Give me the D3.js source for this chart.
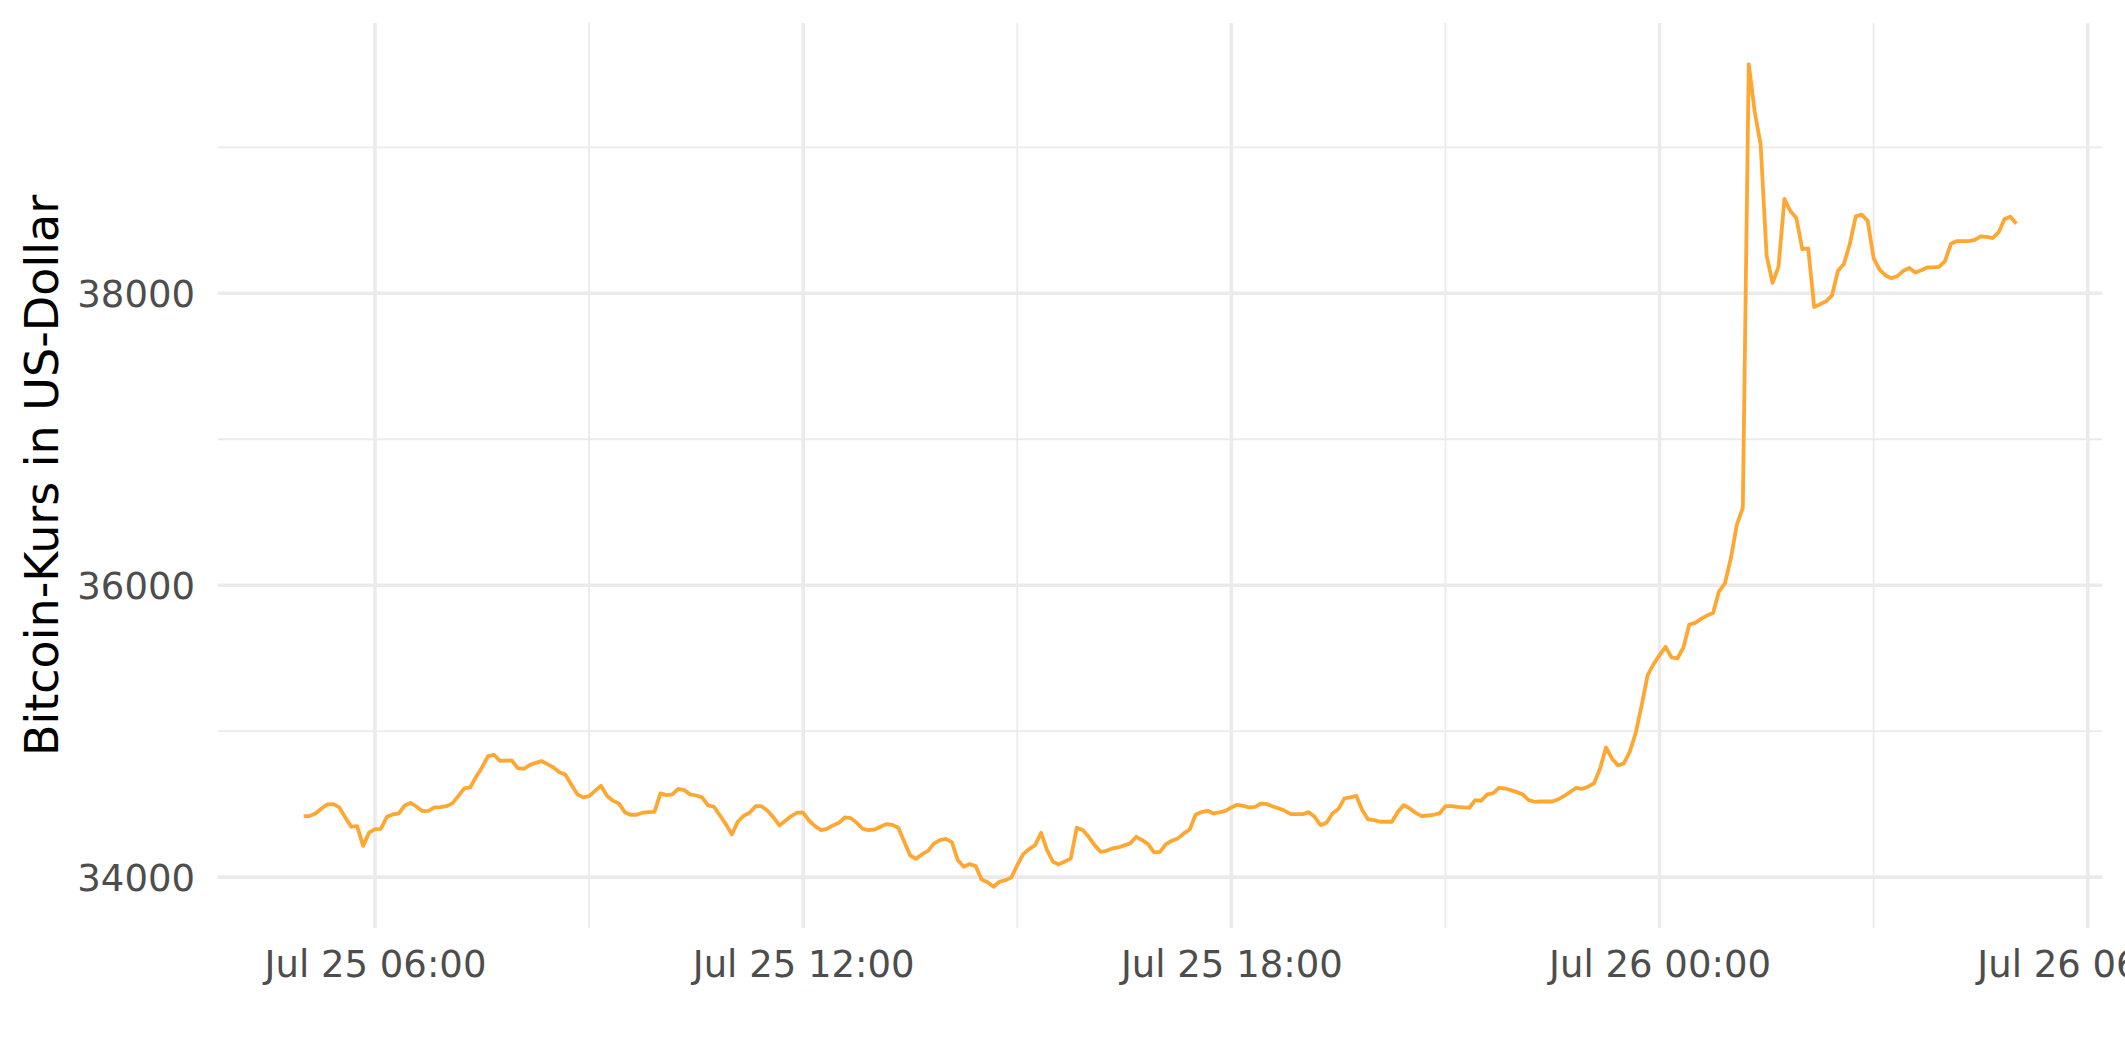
<!DOCTYPE html>
<html>
<head>
<meta charset="utf-8">
<script src="https://cdn.jsdelivr.net/npm/d3@7"></script>
<style>
  html, body { margin: 0; padding: 0; background: #ffffff; }
  svg { display: block; }
</style>
</head>
<body>
<svg id="chart" width="2125" height="1062"></svg>
<script>
// ---- data (5-minute BTC/USD closes, Jul 25 2021 05:00 UTC .. Jul 26 2021 05:00 UTC) ----
const startTime = "2021-07-25T05:00:00Z";
const stepMinutes = 5;
const price = [
  34418, 34418, 34436, 34470, 34498, 34500, 34477, 34409, 34345, 34349,
  34214, 34304, 34329, 34331, 34413, 34429, 34436, 34491, 34509, 34482,
  34452, 34454, 34477, 34479, 34486, 34505, 34555, 34607, 34614, 34687,
  34751, 34829, 34838, 34797, 34798, 34799, 34747, 34742, 34767, 34783,
  34795, 34774, 34751, 34719, 34703, 34635, 34569, 34546, 34555, 34591,
  34626, 34557, 34523, 34505, 34445, 34427, 34427, 34441, 34445, 34447,
  34573, 34562, 34566, 34605, 34596, 34566, 34559, 34546, 34491, 34482,
  34422, 34363, 34292, 34379, 34420, 34441, 34486, 34486, 34454, 34409,
  34354, 34386, 34418, 34441, 34441, 34386, 34349, 34322, 34331, 34354,
  34372, 34409, 34404, 34372, 34331, 34322, 34326, 34345, 34363, 34358,
  34338, 34242, 34148, 34125, 34157, 34180, 34231, 34253, 34262, 34240,
  34116, 34071, 34089, 34075, 33984, 33965, 33933, 33968, 33979, 33997,
  34082, 34157, 34192, 34219, 34304, 34185, 34105, 34087, 34107, 34128,
  34338, 34322, 34276, 34219, 34173, 34180, 34196, 34203, 34217, 34231,
  34276, 34253, 34226, 34169, 34173, 34226, 34249, 34265, 34299, 34326,
  34429, 34445, 34454, 34436, 34443, 34454, 34477, 34495, 34488, 34477,
  34481, 34504, 34500, 34484, 34470, 34454, 34431, 34431, 34431, 34445,
  34413, 34356, 34372, 34436, 34466, 34539, 34546, 34557, 34459, 34395,
  34390, 34379, 34379, 34379, 34447, 34493, 34470, 34440, 34418, 34422,
  34427, 34436, 34486, 34486, 34481, 34477, 34475, 34527, 34523, 34566,
  34573, 34612, 34607, 34596, 34582, 34566, 34527, 34516, 34518, 34518,
  34518, 34534, 34557, 34584, 34612, 34605, 34619, 34644, 34744, 34888,
  34813, 34765, 34779, 34859, 34989, 35178, 35384, 35459, 35521, 35578,
  35505, 35498, 35571, 35730, 35742, 35769, 35793, 35809, 35958, 36013,
  36186, 36415, 36529, 39570, 39244, 39019, 38260, 38071, 38181, 38646,
  38563, 38516, 38303, 38307, 37906, 37925, 37945, 37985, 38154, 38201,
  38339, 38528, 38539, 38496, 38240, 38162, 38122, 38103, 38118, 38154,
  38173, 38142, 38158, 38177, 38177, 38181, 38221, 38339, 38358, 38358,
  38358, 38366, 38390, 38386, 38378, 38417, 38508, 38524, 38476
];
const xMajorTicks = ["2021-07-25T06:00:00Z", "2021-07-25T12:00:00Z", "2021-07-25T18:00:00Z", "2021-07-26T00:00:00Z", "2021-07-26T06:00:00Z"];
const xTickLabels = ["Jul 25 06:00", "Jul 25 12:00", "Jul 25 18:00", "Jul 26 00:00", "Jul 26 06:00"];
const xMinorTicks = ["2021-07-25T09:00:00Z", "2021-07-25T15:00:00Z", "2021-07-25T21:00:00Z", "2021-07-26T03:00:00Z"];
const yMajorTicks = [34000, 36000, 38000];
const yMinorTicks = [35000, 37000, 39000];
const yTitle = "Bitcoin-Kurs in US-Dollar";

// ---- layout ----
const W = 2125, H = 1062;
const margin = { left: 218, right: 23, top: 23, bottom: 134 };
const pw = W - margin.left - margin.right;
const ph = H - margin.top - margin.bottom;

const t0 = new Date(startTime).getTime();
const data = price.map((v, i) => ({ t: new Date(t0 + i * stepMinutes * 60000), v }));

const tExt = d3.extent(data, d => d.t.getTime());
const tPad = (tExt[1] - tExt[0]) * 0.05;
const vExt = d3.extent(data, d => d.v);
const vPad = (vExt[1] - vExt[0]) * 0.05;

const x = d3.scaleUtc().domain([new Date(tExt[0] - tPad), new Date(tExt[1] + tPad)]).range([0, pw]);
const y = d3.scaleLinear().domain([vExt[0] - vPad, vExt[1] + vPad]).range([ph, 0]);

const svg = d3.select("#chart");
svg.append("rect").attr("width", W).attr("height", H).attr("fill", "#ffffff");
const g = svg.append("g").attr("transform", `translate(${margin.left},${margin.top})`);

const gridCol = "#EBEBEB";
// minor grid
g.append("g").selectAll("line.yminor").data(yMinorTicks).join("line")
  .attr("x1", 0).attr("x2", pw).attr("y1", d => y(d)).attr("y2", d => y(d))
  .attr("stroke", gridCol).attr("stroke-width", 1.8);
g.append("g").selectAll("line.xminor").data(xMinorTicks.map(s => new Date(s))).join("line")
  .attr("y1", 0).attr("y2", ph).attr("x1", d => x(d)).attr("x2", d => x(d))
  .attr("stroke", gridCol).attr("stroke-width", 1.8);
// major grid
g.append("g").selectAll("line.ymajor").data(yMajorTicks).join("line")
  .attr("x1", 0).attr("x2", pw).attr("y1", d => y(d)).attr("y2", d => y(d))
  .attr("stroke", gridCol).attr("stroke-width", 3.6);
g.append("g").selectAll("line.xmajor").data(xMajorTicks.map(s => new Date(s))).join("line")
  .attr("y1", 0).attr("y2", ph).attr("x1", d => x(d)).attr("x2", d => x(d))
  .attr("stroke", gridCol).attr("stroke-width", 3.6);

// line
const line = d3.line().x(d => x(d.t)).y(d => y(d.v));
g.append("path").datum(data)
  .attr("d", line)
  .attr("fill", "none")
  .attr("stroke", "#FFA733")
  .attr("stroke-width", 3.8)
  .attr("stroke-linejoin", "round")
  .attr("stroke-linecap", "butt");

// axes (text only, like ggplot theme_minimal)
const font = "'DejaVu Sans', sans-serif";
const xAxis = d3.axisBottom(x)
  .tickValues(xMajorTicks.map(s => new Date(s)))
  .tickFormat((d, i) => xTickLabels[i])
  .tickSize(0).tickPadding(0);
const gx = g.append("g").attr("transform", `translate(0,${ph})`).call(xAxis);
gx.select(".domain").remove();
gx.selectAll("text")
  .attr("y", 49).attr("dy", null)
  .attr("font-family", font).attr("font-size", 37).attr("fill", "#4D4D4D");

const yAxis = d3.axisLeft(y).tickValues(yMajorTicks).tickFormat(d3.format("d")).tickSize(0).tickPadding(0);
const gy = g.append("g").call(yAxis);
gy.select(".domain").remove();
gy.selectAll("text")
  .attr("x", -23).attr("dy", "0.36em")
  .attr("font-family", font).attr("font-size", 37).attr("fill", "#4D4D4D");

// y title
svg.append("text")
  .attr("transform", `translate(58,${margin.top + ph / 2}) rotate(-90)`)
  .attr("text-anchor", "middle")
  .attr("font-family", font).attr("font-size", 46).attr("fill", "#000000")
  .text(yTitle);
</script>
</body>
</html>
